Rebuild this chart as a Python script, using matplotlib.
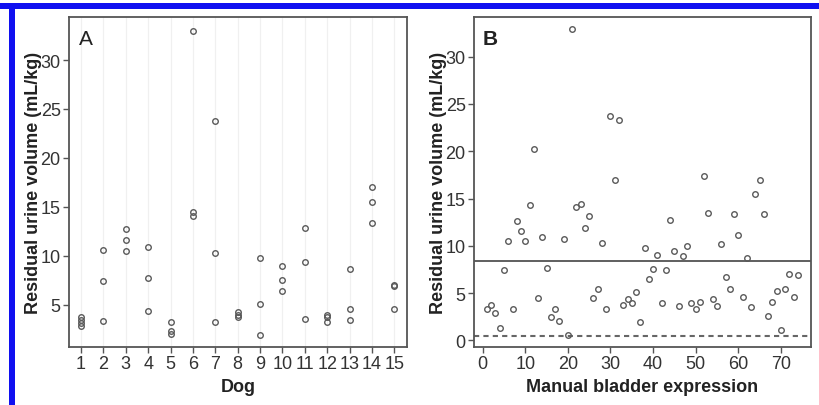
import matplotlib
matplotlib.use("Agg")
import matplotlib.pyplot as plt
from matplotlib.patches import Rectangle

plt.rcParams['font.family'] = ['Liberation Sans', 'DejaVu Sans']

# ---- Panel A data: residual urine volume per dog ----
dog_ids = [1, 1, 1, 1,
           2, 2, 2,
           3, 3, 3,
           4, 4, 4,
           5, 5, 5,
           6, 6, 6,
           7, 7, 7,
           8, 8, 8,
           9, 9, 9,
           10, 10, 10,
           11, 11, 11,
           12, 12, 12,
           13, 13, 13,
           14, 14, 14,
           15, 15, 15]
dog_volumes = [3.7, 3.4, 3.1, 2.8,
               10.6, 7.4, 3.3,
               12.7, 11.6, 10.5,
               10.9, 7.7, 4.4,
               3.2, 2.3, 2.0,
               33.0, 14.5, 14.1,
               23.8, 10.3, 3.2,
               4.3, 3.9, 3.7,
               9.8, 5.1, 1.9,
               9.0, 7.5, 6.4,
               12.8, 9.4, 3.5,
               4.0, 3.7, 3.2,
               8.7, 4.6, 3.4,
               17.0, 15.5, 13.4,
               7.0, 6.9, 4.6]
dog_ticks = list(range(1, 16))

# ---- Panel B data: residual urine volume per expression ----
expr_index = list(range(1, 75))
expr_volumes = [3.35, 3.77, 2.9, 1.31, 7.4, 10.54, 3.35, 12.62, 11.56, 10.5,
                14.34, 20.2, 4.48, 10.93, 7.69, 2.43, 3.35, 2.05, 10.75, 0.53,
                32.9, 14.1, 14.45, 11.9, 13.18, 4.51, 5.46, 10.33, 3.35, 23.7,
                16.95, 23.33, 3.74, 4.4, 3.95, 5.15, 1.98, 9.77, 6.49, 7.5,
                8.99, 3.95, 7.43, 12.76, 9.41, 3.63, 8.92, 10.0, 3.92, 3.35,
                4.1, 17.41, 13.46, 4.4, 3.63, 10.22, 6.66, 5.46, 13.32, 11.17,
                4.62, 8.71, 3.49, 15.5, 16.99, 13.32, 2.58, 4.1, 5.22, 1.13,
                5.46, 7.05, 4.62, 6.87]
mean_line = 8.43
ref_line = 0.45

W, H = 819, 406
fig = plt.figure(figsize=(W / 100, H / 100), dpi=100)
fig.patch.set_facecolor('white')

# blue frame strips
blue = '#1010f0'
fig.patches.append(Rectangle((0, (H - 9.5) / H), 1, 5.5 / H, transform=fig.transFigure,
                             facecolor=blue, edgecolor='none', zorder=0))
fig.patches.append(Rectangle((9 / W, 0), 6 / W, (H - 4) / H, transform=fig.transFigure,
                             facecolor=blue, edgecolor='none', zorder=0))


def px_axes(l, r, t, b):
    return fig.add_axes([l / W, (H - b) / H, (r - l) / W, (b - t) / H])


axA = px_axes(69, 407, 18, 348)
axB = px_axes(474, 811, 18, 348)

frame_col = '#555555'
pt_col = '#5a5a5a'
txt_col = '#333333'

for ax in (axA, axB):
    for s in ax.spines.values():
        s.set_color(frame_col)
        s.set_linewidth(1.3)
    ax.tick_params(axis='both', direction='out', length=4, width=1.0, color=frame_col,
                   labelsize=13, labelcolor=txt_col, pad=2)
    ax.set_facecolor('white')

# Panel A
for d in dog_ticks:
    axA.axvline(d, color='#f0f0f0', lw=0.9, zorder=0)
axA.plot(dog_ids, dog_volumes, linestyle='none', marker='o', markersize=4,
         markerfacecolor='none', markeredgecolor=pt_col, markeredgewidth=1.0, zorder=3)
axA.set_xlim(0.46, 15.57)
axA.set_ylim(0.68, 34.4)
axA.set_xticks(dog_ticks)
axA.set_yticks([5, 10, 15, 20, 25, 30])
axA.set_xlabel('Dog', fontsize=13, fontweight='bold', color='#222222', labelpad=4)
axA.set_ylabel('Residual urine volume (mL/kg)', fontsize=13, fontweight='bold',
               color='#222222', labelpad=-1)
axA.text(0.03, 0.965, 'A', transform=axA.transAxes, fontsize=15, color='#222222',
         ha='left', va='top')

# Panel B
axB.plot(expr_index, expr_volumes, linestyle='none', marker='o', markersize=4,
         markerfacecolor='none', markeredgecolor=pt_col, markeredgewidth=1.0, zorder=3)
axB.axhline(mean_line, color='#444444', lw=1.2, zorder=2)
axB.axhline(ref_line, color='#666666', lw=1.5, linestyle=(0, (2.5, 2)), zorder=2)
axB.set_xlim(-2.04, 77.07)
axB.set_ylim(-0.7, 34.2)
axB.set_xticks([0, 10, 20, 30, 40, 50, 60, 70])
axB.set_yticks([0, 5, 10, 15, 20, 25, 30])
axB.set_xlabel('Manual bladder expression', fontsize=13, fontweight='bold',
               color='#222222', labelpad=4)
axB.set_ylabel('Residual urine volume (mL/kg)', fontsize=13, fontweight='bold',
               color='#222222', labelpad=-1)
axB.text(0.027, 0.965, 'B', transform=axB.transAxes, fontsize=15, fontweight='bold',
         color='#222222', ha='left', va='top')

fig.savefig('out.png', dpi=100, facecolor='white')
